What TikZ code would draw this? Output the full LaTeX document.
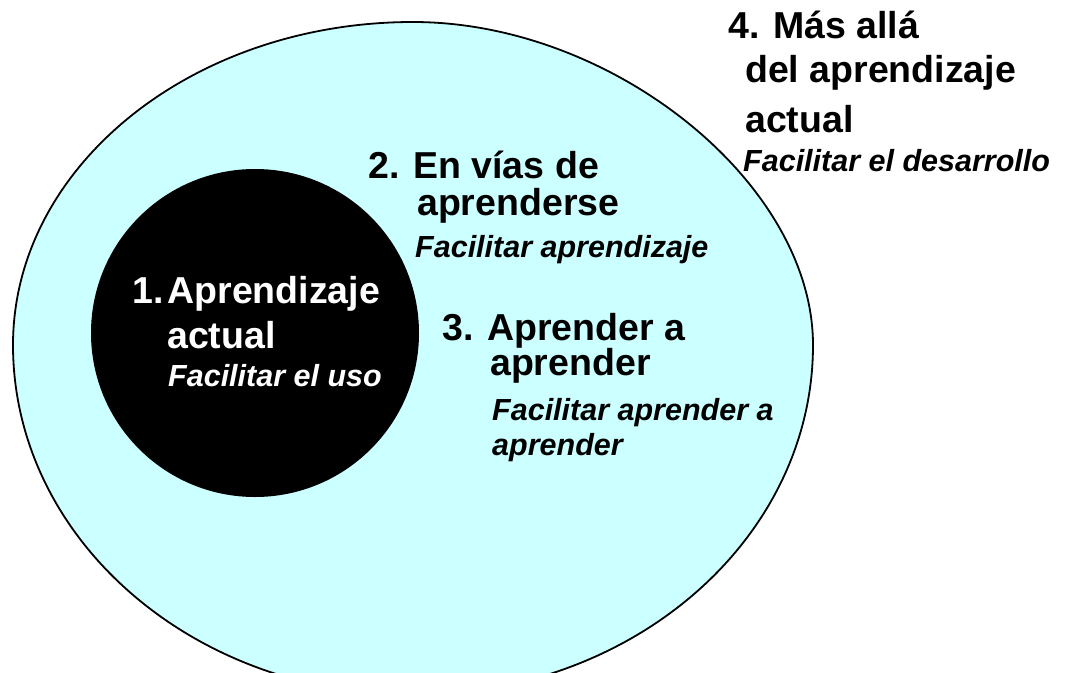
\documentclass[tikz,border=0pt]{standalone}
\usepackage{fontspec}
\setmainfont{Liberation Sans}
\usepackage{tikz}

\definecolor{paleCyan}{HTML}{CCFFFF}
\tikzset{
	bigline/.style={anchor=base west, inner sep=0pt, font=\fontsize{37.5}{37.5}\selectfont\bfseries},
	subline/.style={anchor=base west, inner sep=0pt, font=\fontsize{30.5}{30.5}\selectfont\bfseries\itshape}
}

\begin{document}
\begin{tikzpicture}[x=1pt,y=-1pt]
			\useasboundingbox (0,0) rectangle (1076,672);
			\clip (0,0) rectangle (1076,672);

			%Outer ellipse (slightly flatter on the upper right, longer below)
			\draw[fill=paleCyan, line width=1.8pt] (13,345)
				arc[start angle=180, end angle=90, x radius=400pt, y radius=323pt]
				.. controls (613,22) and (813,183.5) .. (813,345)
				arc[start angle=0, end angle=-180, x radius=400pt, y radius=350pt] -- cycle;

			%Inner circle
			\fill[black] (255,333) circle[radius=164pt];

			%1. inside the circle
			\node[bigline, white] (uno-a) at (132,303) {1.\kern4pt Aprendizaje};
			\node[bigline, white] (uno-b) at (167,348) {actual};
			\node[subline, white] (uno-c) at (168,386) {Facilitar el uso};

			%2.
			\node[bigline] (dos-a) at (368,178) {2. En vías de};
			\node[bigline] (dos-b) at (417,215) {aprenderse};
			\node[subline] (dos-c) at (415,257) {Facilitar aprendizaje};

			%3.
			\node[bigline] (tres-a) at (442,340) {3. Aprender a};
			\node[bigline] (tres-b) at (490,375) {aprender};
			\foreach \i/\y/\t in {c/420/Facilitar aprender a, d/455/aprender}
				\node[subline] (tres-\i) at (492,\y) {\t};

			%4. outside
			\node[bigline] (cuatro-a) at (728,38) {4. Más allá};
			\node[bigline] (cuatro-b) at (745,82) {del aprendizaje};
			\node[bigline] (cuatro-c) at (745,132) {actual};
			\node[subline] (cuatro-d) at (743,171) {Facilitar el desarrollo};
\end{tikzpicture}
\end{document}
